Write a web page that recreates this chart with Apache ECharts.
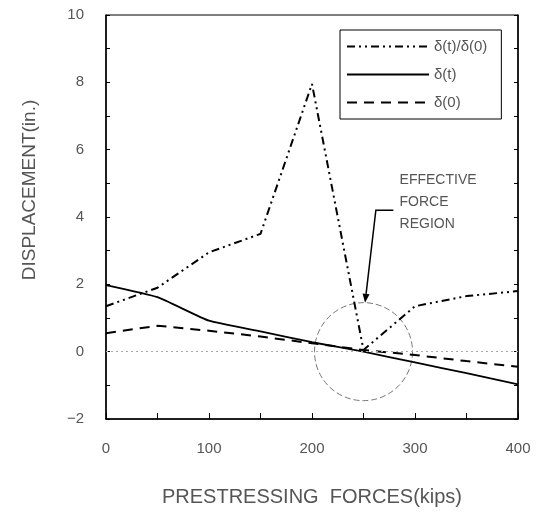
<!DOCTYPE html>
<html>
<head>
<meta charset="utf-8">
<script src="https://cdn.jsdelivr.net/npm/echarts@6/dist/echarts.min.js"></script>
<style>
  html, body { margin: 0; padding: 0; background: #fff; }
  #chart { width: 550px; height: 521px; }
</style>
</head>
<body>
<div id="chart"></div>
<script>
// prestressing force (kips)
var forces = [0, 50, 100, 150, 200, 250, 300, 350, 400];
// displacement (in.)
var ratio = [1.35, 1.9, 2.95, 3.5, 7.95, 0.05, 1.35, 1.65, 1.8];   // δ(t)/δ(0)
var deltaT = [1.98, 1.62, 0.92, 0.6, 0.28, 0.0, -0.32, -0.64, -0.97]; // δ(t)
var delta0 = [0.55, 0.77, 0.62, 0.45, 0.25, 0.05, -0.1, -0.28, -0.45]; // δ(0)
var seriesNames = ['δ(t)/δ(0)', 'δ(t)', 'δ(0)'];
var yTicks = [-2, 0, 2, 4, 6, 8, 10];
var xTicks = [0, 100, 200, 300, 400];

function pairs(ys) {
  return forces.map(function (f, i) { return [f, ys[i]]; });
}

var font = 'Liberation Sans';
var grey = '#555';

var chart = echarts.init(document.getElementById('chart'));

var option = {
  animation: false,
  backgroundColor: '#fff',
  grid: {
    left: 106, right: 32, top: 15, bottom: 102,
    show: true, borderColor: '#000', borderWidth: 1
  },
  legend: {
    orient: 'vertical',
    left: 340, top: 30,
    data: seriesNames,
    itemWidth: 82, itemHeight: 14, itemGap: 13,
    padding: [9, 14, 9, 6],
    borderColor: '#000', borderWidth: 1,
    itemStyle: { color: 'transparent', borderColor: 'transparent', borderWidth: 0 },
    textStyle: { fontFamily: font, fontSize: 15, color: grey }
  },
  xAxis: {
    type: 'value', min: 0, max: 400, interval: 100,
    name: 'PRESTRESSING  FORCES(kips)',
    nameLocation: 'middle', nameGap: 68,
    nameTextStyle: { fontFamily: font, fontSize: 20, color: grey },
    axisLine: { onZero: false, lineStyle: { color: '#000', width: 1.5 } },
    axisTick: { inside: true, length: 6, lineStyle: { color: '#000' } },
    minorTick: { show: true, splitNumber: 2, length: 6, lineStyle: { color: '#000' } },
    axisLabel: {
      fontFamily: font, fontSize: 15, color: grey, margin: 22,
      formatter: function (v) { return xTicks.indexOf(v) >= 0 ? String(v) : ''; }
    },
    splitLine: { show: false }
  },
  yAxis: [{
    type: 'value', min: -2, max: 10, interval: 2,
    axisLine: { show: true, onZero: false, lineStyle: { color: '#000', width: 1.5 } },
    axisTick: { show: true, inside: true, length: 4, lineStyle: { color: '#000' } },
    minorTick: { show: true, splitNumber: 2, length: 4, lineStyle: { color: '#000' } },
    axisLabel: {
      fontFamily: font, fontSize: 15, color: grey, margin: 22,
      formatter: function (v) { return yTicks.indexOf(v) >= 0 ? (v < 0 ? '\u2212' + (-v) : String(v)) : ''; }
    },
    splitLine: { show: false }
  }, {
    type: 'value', min: -2, max: 10, interval: 2, position: 'right',
    axisLine: { show: true, onZero: false, lineStyle: { color: '#000', width: 1.5 } },
    axisTick: { show: true, inside: true, length: 4, lineStyle: { color: '#000' } },
    minorTick: { show: true, splitNumber: 2, length: 4, lineStyle: { color: '#000' } },
    axisLabel: { show: false },
    splitLine: { show: false }
  }],
  series: [{
    name: seriesNames[0], type: 'line', data: pairs(ratio),
    symbol: 'none', showSymbol: false,
    lineStyle: { color: '#000', width: 2, type: [8, 4, 2, 4, 2, 4] },
    itemStyle: { color: '#000' }
  }, {
    name: seriesNames[1], type: 'line', data: pairs(deltaT),
    symbol: 'none', showSymbol: false, smooth: 0.15,
    lineStyle: { color: '#000', width: 1.8, type: 'solid' },
    itemStyle: { color: '#000' }
  }, {
    name: seriesNames[2], type: 'line', data: pairs(delta0),
    symbol: 'none', showSymbol: false,
    lineStyle: { color: '#000', width: 2, type: [10, 7] },
    itemStyle: { color: '#000' },
    markLine: {
      silent: true, symbol: 'none', label: { show: false },
      lineStyle: { color: '#aaa', width: 1, type: [2, 3] },
      data: [{ yAxis: 0 }]
    }
  }]
};
chart.setOption(option);

// annotation: effective force region
function px(x, y) { return chart.convertToPixel({ gridIndex: 0 }, [x, y]); }
var c = px(250, 0);
var t = px(285, 4.45);
var l1 = px(279, 4.2), l2 = px(262, 4.2), l3 = px(251.5, 1.45);
var ang = Math.atan2(l3[1] - l2[1], l3[0] - l2[0]);
var ah = 9, aw = 3.5;
var base = [l3[0] - ah * Math.cos(ang), l3[1] - ah * Math.sin(ang)];
var nx = -Math.sin(ang), ny = Math.cos(ang);

chart.setOption({
  graphic: [{
    type: 'circle', shape: { cx: c[0], cy: c[1], r: 49 },
    style: { fill: null, stroke: '#777', lineWidth: 1, lineDash: [6, 3] }
  }, {
    type: 'polyline', shape: { points: [l1, l2, base] },
    style: { fill: null, stroke: '#000', lineWidth: 1.5 }
  }, {
    type: 'polygon',
    shape: { points: [l3, [base[0] + nx * aw, base[1] + ny * aw], [base[0] - nx * aw, base[1] - ny * aw]] },
    style: { fill: '#000' }
  }, {
    type: 'text', x: t[0], y: t[1],
    style: {
      text: 'EFFECTIVE\nFORCE\nREGION', fontFamily: font, fontSize: 14,
      lineHeight: 22, fill: grey, textVerticalAlign: 'middle'
    }
  }, {
    type: 'text', x: 30, y: 190, rotation: Math.PI / 2,
    style: {
      text: 'DISPLACEMENT(in.)', fontFamily: font, fontSize: 19,
      fill: grey, textAlign: 'center', textVerticalAlign: 'middle'
    }
  }]
});
</script>
</body>
</html>
